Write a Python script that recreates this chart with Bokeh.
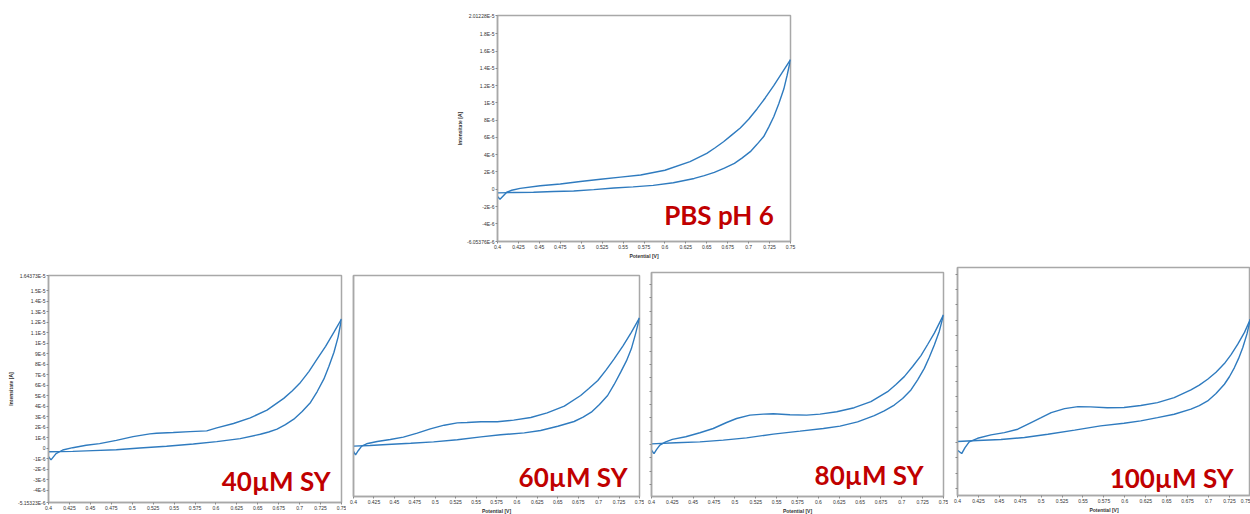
from bokeh.plotting import figure
from bokeh.layouts import column, row
from bokeh.models import Spacer, FixedTicker, Label, Range1d
from bokeh.embed import file_html
from bokeh.resources import INLINE

# ---------------- data (current in units of 1E-6 A, potential in V) ----------------
x_ticks = [0.4, 0.425, 0.45, 0.475, 0.5, 0.525, 0.55, 0.575, 0.6, 0.625, 0.65, 0.675, 0.7, 0.725, 0.75]
x_tick_labels = ["0.4", "0.425", "0.45", "0.475", "0.5", "0.525", "0.55", "0.575", "0.6",
                 "0.625", "0.65", "0.675", "0.7", "0.725", "0.75"]

pbs_y_ticks = [-6.05376, -4, -2, 0, 2, 4, 6, 8, 10, 12, 14, 16, 18, 20.1228]
pbs_y_labels = ["-6.05376E-6", "-4E-6", "-2E-6", "0", "2E-6", "4E-6", "6E-6", "8E-6", "1E-5",
                "1.2E-5", "1.4E-5", "1.6E-5", "1.8E-5", "2.01228E-5"]

sy40_y_ticks = [-5.15323, -4, -3, -2, -1, 0, 1, 2, 3, 4, 5, 6, 7, 8, 9, 10, 11, 12, 13, 14, 15, 16.4373]
sy40_y_labels = ["-5.15323E-6", "-4E-6", "-3E-6", "-2E-6", "-1E-6", "0", "1E-6", "2E-6", "3E-6", "4E-6",
                 "5E-6", "6E-6", "7E-6", "8E-6", "9E-6", "1E-5", "1.1E-5", "1.2E-5", "1.3E-5", "1.4E-5",
                 "1.5E-5", "1.64373E-5"]

sy80_y_ticks = [-3, -2, -1, 0, 1, 2, 3, 4, 5, 6, 7, 8, 9, 10, 11, 12]
sy100_y_ticks = [-3, -2, -1, 0, 1, 2, 3, 4, 5, 6, 7, 8, 9, 10, 11]

# PBS pH 6
pbs_up_x = [0.4, 0.403, 0.411, 0.417, 0.427, 0.451, 0.475, 0.499, 0.523, 0.547, 0.571, 0.6,
            0.63, 0.65, 0.66, 0.67, 0.68, 0.69, 0.7, 0.71, 0.72, 0.73, 0.74, 0.75]
pbs_up_y = [-0.85, -1.15, -0.35, -0.12, 0.1, 0.4, 0.6, 0.9, 1.15, 1.4, 1.65, 2.2,
            3.2, 4.15, 4.8, 5.5, 6.3, 7.1, 8.1, 9.3, 10.6, 12.0, 13.5, 15.0]
pbs_dn_x = [0.75, 0.746, 0.742, 0.736, 0.73, 0.724, 0.718, 0.71, 0.702, 0.692, 0.683, 0.671,
            0.659, 0.647, 0.635, 0.61, 0.586, 0.562, 0.539, 0.515, 0.491, 0.467, 0.443, 0.419, 0.4]
pbs_dn_y = [15.0, 13.2, 11.6, 9.9, 8.4, 7.2, 6.1, 5.2, 4.35, 3.6, 3.0, 2.45,
            1.95, 1.58, 1.25, 0.75, 0.45, 0.27, 0.15, -0.05, -0.2, -0.27, -0.35, -0.38, -0.42]

# 40 uM SY
sy40_up_x = [0.4, 0.403, 0.409, 0.417, 0.429, 0.445, 0.461, 0.481, 0.501, 0.521, 0.529, 0.549,
             0.569, 0.589, 0.601, 0.621, 0.641, 0.661, 0.681, 0.691, 0.701, 0.711, 0.721, 0.731,
             0.741, 0.75]
sy40_up_y = [-0.8, -1.1, -0.5, -0.16, 0.06, 0.29, 0.45, 0.76, 1.11, 1.37, 1.43, 1.5,
             1.59, 1.66, 1.94, 2.36, 2.9, 3.63, 4.75, 5.45, 6.27, 7.3, 8.5, 9.7,
             11.05, 12.3]
sy40_dn_x = [0.75, 0.746, 0.741, 0.735, 0.729, 0.721, 0.713, 0.703, 0.693, 0.683, 0.673, 0.663,
             0.653, 0.629, 0.601, 0.573, 0.541, 0.509, 0.481, 0.453, 0.429, 0.4]
sy40_dn_y = [12.3, 10.6, 9.14, 7.8, 6.6, 5.4, 4.36, 3.5, 2.77, 2.25, 1.82, 1.55,
             1.34, 0.92, 0.64, 0.41, 0.19, 0.03, -0.13, -0.22, -0.29, -0.32]

# 60 uM SY
sy60_up_x = [0.4, 0.4025, 0.406, 0.41, 0.416, 0.429, 0.445, 0.461, 0.478, 0.494, 0.511, 0.527,
             0.539, 0.556, 0.576, 0.596, 0.617, 0.637, 0.658, 0.678, 0.688, 0.699, 0.709, 0.719,
             0.73, 0.74, 0.75]
sy60_up_y = [-0.65, -0.98, -0.55, -0.13, 0.1, 0.33, 0.52, 0.75, 1.14, 1.56, 1.92, 2.15,
             2.18, 2.25, 2.25, 2.41, 2.67, 3.13, 3.78, 4.82, 5.5, 6.29, 7.3, 8.4,
             9.7, 11.0, 12.4]
sy60_dn_x = [0.75, 0.745, 0.74, 0.734, 0.727, 0.719, 0.711, 0.701, 0.691, 0.681, 0.67, 0.65,
             0.629, 0.609, 0.58, 0.556, 0.527, 0.498, 0.47, 0.441, 0.42, 0.4]
sy60_dn_y = [12.4, 10.8, 9.38, 8.2, 7.1, 5.9, 4.82, 3.95, 3.19, 2.7, 2.28, 1.82,
             1.4, 1.17, 0.98, 0.78, 0.49, 0.29, 0.16, 0.03, -0.07, -0.13]

# 80 uM SY
sy80_up_x = [0.4, 0.403, 0.406, 0.41, 0.417, 0.425, 0.441, 0.458, 0.474, 0.49, 0.502, 0.518,
             0.534, 0.546, 0.566, 0.586, 0.602, 0.622, 0.643, 0.663, 0.683, 0.693, 0.703, 0.713,
             0.723, 0.731, 0.739, 0.75]
sy80_up_y = [-0.43, -0.68, -0.38, -0.05, 0.2, 0.38, 0.58, 0.88, 1.2, 1.65, 1.95, 2.2,
             2.28, 2.31, 2.23, 2.2, 2.28, 2.46, 2.76, 3.21, 3.96, 4.5, 5.09, 5.85,
             6.67, 7.5, 8.35, 9.72]
sy80_dn_x = [0.75, 0.745, 0.739, 0.733, 0.727, 0.719, 0.711, 0.701, 0.691, 0.679, 0.667, 0.647,
             0.626, 0.606, 0.578, 0.546, 0.514, 0.486, 0.458, 0.429, 0.4]
sy80_dn_y = [9.72, 8.5, 7.47, 6.55, 5.71, 4.85, 4.09, 3.45, 2.96, 2.52, 2.16, 1.7,
             1.38, 1.2, 1.0, 0.78, 0.5, 0.33, 0.2, 0.13, 0.05]

# 100 uM SY
sy100_up_x = [0.4, 0.405, 0.409, 0.414, 0.424, 0.44, 0.456, 0.472, 0.488, 0.5, 0.512, 0.528,
              0.544, 0.559, 0.579, 0.599, 0.619, 0.639, 0.659, 0.679, 0.689, 0.699, 0.709, 0.719,
              0.727, 0.735, 0.743, 0.75]
sy100_up_y = [-0.5, -0.72, -0.33, 0.04, 0.28, 0.5, 0.65, 0.87, 1.31, 1.63, 1.96, 2.22,
              2.35, 2.33, 2.27, 2.29, 2.42, 2.61, 2.94, 3.44, 3.75, 4.14, 4.6, 5.16,
              5.75, 6.43, 7.2, 8.06]
sy100_dn_x = [0.75, 0.746, 0.741, 0.736, 0.731, 0.725, 0.719, 0.709, 0.699, 0.689, 0.679, 0.659,
              0.639, 0.619, 0.599, 0.571, 0.54, 0.508, 0.48, 0.452, 0.424, 0.4]
sy100_dn_y = [8.06, 7.1, 6.21, 5.5, 4.9, 4.3, 3.81, 3.2, 2.72, 2.42, 2.18, 1.85,
              1.63, 1.42, 1.26, 1.09, 0.81, 0.54, 0.33, 0.2, 0.13, 0.07]

titles = ["PBS pH 6", "40\u00b5M SY", "60\u00b5M SY", "80\u00b5M SY", "100\u00b5M SY"]

# ---------------- styling ----------------
LINE = "#2f7bbf"
GREY = "#a8a8a8"
RED = "#c00000"
TICK_FONT = "Liberation Sans"


def panel(xr, yr, fw, fh, left, top, right, bottom, yticks, ylabels, ytitle, show_yticks=True):
    p = figure(x_range=Range1d(*xr), y_range=Range1d(*yr), frame_width=fw, frame_height=fh,
               min_border_left=left, min_border_top=top, min_border_right=right,
               min_border_bottom=bottom, output_backend="svg", toolbar_location=None,
               background_fill_color="white", border_fill_color="white")
    p.xgrid.visible = False
    p.ygrid.visible = False
    p.outline_line_color = GREY
    p.outline_line_width = 1.5
    for ax in (p.xaxis[0], p.yaxis[0]):
        ax.axis_line_color = GREY
        ax.axis_line_width = 1.5
        ax.major_tick_line_color = "#8a8a8a"
        ax.major_tick_out = 2
        ax.major_tick_in = 0
        ax.minor_tick_line_color = None
        ax.major_label_text_font = TICK_FONT
        ax.major_label_text_font_size = "5px"
        ax.major_label_text_color = "#333333"
        ax.major_label_standoff = 1
        ax.axis_label_text_font = TICK_FONT
        ax.axis_label_text_font_size = "5px"
        ax.axis_label_text_font_style = "bold"
        ax.axis_label_text_color = "#333333"
        ax.axis_label_standoff = 1
    p.xaxis.ticker = FixedTicker(ticks=x_ticks)
    p.xaxis.major_label_overrides = dict(zip(x_ticks, x_tick_labels))
    p.xaxis.axis_label = "Potential [V]"
    p.yaxis.ticker = FixedTicker(ticks=yticks)
    p.yaxis.major_label_overrides = dict(zip(yticks, ylabels))
    if ytitle:
        p.yaxis.axis_label = ytitle
    if not show_yticks:
        p.yaxis.major_tick_line_color = None
    return p


def add_curve(p, ux, uy, dx, dy, title, lx, ly):
    p.line(ux, uy, line_color=LINE, line_width=1.4)
    p.line(dx, dy, line_color=LINE, line_width=1.4)
    p.add_layout(Label(x=lx, y=ly, text=title, text_align="right", text_baseline="alphabetic",
                       text_font="Lato", text_font_style="bold", text_font_size="26px",
                       text_color=RED))


# top panel: frame 497..790 x 15..241
p0 = panel((0.4, 0.75), (pbs_y_ticks[0], pbs_y_ticks[-1]), 293, 226, 57, 15, 10, 18,
           pbs_y_ticks, pbs_y_labels, "Intensitate [A]")
add_curve(p0, pbs_up_x, pbs_up_y, pbs_dn_x, pbs_dn_y, titles[0], 0.73, -3.0)

# bottom panels (each placed below a spacer so frame tops differ)
p1 = panel((0.4, 0.75), (sy40_y_ticks[0], sy40_y_ticks[-1]), 293, 227, 48, 5, 5, 18,
           sy40_y_ticks, sy40_y_labels, "Intensitate [A]")
add_curve(p1, sy40_up_x, sy40_up_y, sy40_dn_x, sy40_dn_y, titles[1], 0.737, -3.13)

p2 = panel((0.4, 0.75), (-5.05, 16.55), 286, 221, 7, 5, 5, 18,
           [0], [""], None, show_yticks=False)
add_curve(p2, sy60_up_x, sy60_up_y, sy60_dn_x, sy60_dn_y, titles[2], 0.7353, -3.10)

p3 = panel((0.4, 0.75), (-3.9, 12.9), 292, 224, 7, 5, 5, 18,
           sy80_y_ticks, [""] * len(sy80_y_ticks), None)
add_curve(p3, sy80_up_x, sy80_up_y, sy80_dn_x, sy80_dn_y, titles[3], 0.726, -2.25)

p4 = panel((0.4, 0.7502), (-3.46, 11.44), 293, 228, 9, 5, 0, 18,
           sy100_y_ticks, [""] * len(sy100_y_ticks), None)
add_curve(p4, sy100_up_x, sy100_up_y, sy100_dn_x, sy100_dn_y, titles[4], 0.73, -2.29)

layout = column(
    row(Spacer(width=440, height=259), p0, spacing=0),
    row(column(Spacer(width=346, height=9), p1, spacing=0),
        column(Spacer(width=298, height=9), p2, spacing=0),
        column(Spacer(width=304, height=6), p3, spacing=0),
        column(Spacer(width=302, height=1), p4, spacing=0),
        spacing=0),
    spacing=0,
)

template = """
{% block postamble %}
<style>html, body { margin: 0; padding: 0; overflow: hidden; background: white; }</style>
{% endblock %}
"""

open("out.html", "w").write(file_html(layout, INLINE, "CV curves", template=template))
